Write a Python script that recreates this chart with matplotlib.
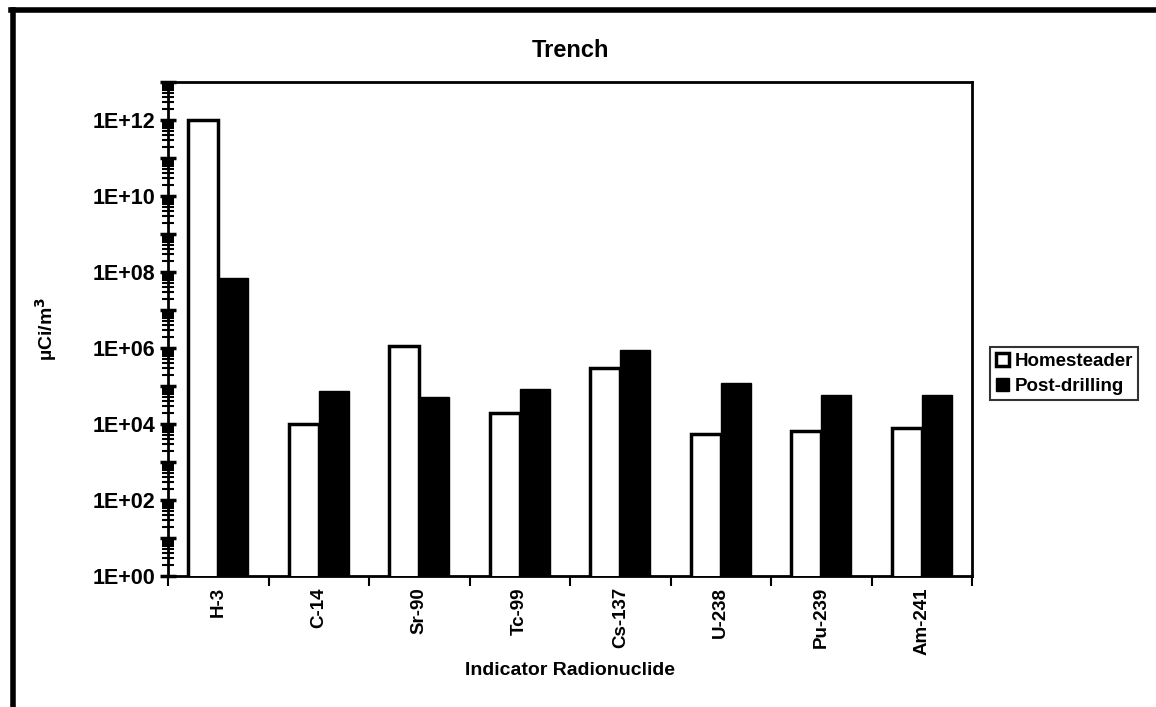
import numpy as np
import matplotlib
matplotlib.use("Agg")
import matplotlib.pyplot as plt
from matplotlib.ticker import LogLocator, FuncFormatter, NullFormatter, FixedLocator
from matplotlib.lines import Line2D

plt.rcParams["font.family"] = ["Liberation Sans", "DejaVu Sans"]
plt.rcParams["font.weight"] = "bold"

nuclides = ["H-3", "C-14", "Sr-90", "Tc-99", "Cs-137", "U-238", "Pu-239", "Am-241"]
homesteader = [1.0e12, 1.0e4, 1.1e6, 2.0e4, 3.0e5, 5.5e3, 6.5e3, 7.8e3]
post_drilling = [7.0e7, 7.5e4, 5.0e4, 8.5e4, 9.0e5, 1.2e5, 5.8e4, 5.8e4]

fig = plt.figure(figsize=(11.56, 7.07), dpi=100)
ax = fig.add_axes([168 / 1156, 1 - 576 / 707, (972 - 168) / 1156, (576 - 82) / 707])

x = np.arange(len(nuclides))
w = 0.3
ax.bar(x - w / 2, homesteader, w, color="white", edgecolor="black", linewidth=2.5,
       label="Homesteader", zorder=3)
ax.bar(x + w / 2, post_drilling, w, color="black", edgecolor="black", linewidth=1,
       label="Post-drilling", zorder=3)

ax.set_yscale("log")
ax.set_ylim(1, 1e13)
ax.set_xlim(-0.5, len(nuclides) - 0.5)

ax.yaxis.set_major_locator(LogLocator(base=10, numticks=20))
ax.yaxis.set_minor_locator(LogLocator(base=10, subs=np.arange(2, 10), numticks=200))
ax.yaxis.set_major_formatter(FuncFormatter(
    lambda v, p: "1E+%02d" % round(np.log10(v)) if round(np.log10(v)) % 2 == 0 else ""))
ax.yaxis.set_minor_formatter(NullFormatter())
ax.tick_params(axis="y", which="major", direction="inout", length=12, width=2.5,
               labelsize=15.5, pad=3)
ax.tick_params(axis="y", which="minor", direction="inout", length=9, width=1.5)

ax.set_xticks(x)
ax.set_xticklabels(nuclides, rotation=90, fontsize=13.5, fontweight="bold")
ax.xaxis.set_minor_locator(FixedLocator(np.arange(-0.5, len(nuclides), 1.0)))
ax.tick_params(axis="x", which="major", length=0, pad=8)
ax.tick_params(axis="x", which="minor", direction="out", length=7, width=1.5)

for s in ax.spines.values():
    s.set_linewidth(2)

ax.set_title("Trench", fontsize=17, fontweight="bold", pad=18)
ax.set_ylabel("µCi/m$^\\mathbf{3}$", fontsize=14, fontweight="bold", labelpad=24)
ax.set_xlabel("Indicator Radionuclide", fontsize=14, fontweight="bold", labelpad=5)

leg = ax.legend(loc="center left", bbox_to_anchor=(990 / 1156, 1 - 374 / 707),
                bbox_transform=fig.transFigure, fontsize=13.5, frameon=True,
                fancybox=False, handlelength=0.7, handleheight=0.7, handletextpad=0.3,
                borderpad=0.3, labelspacing=0.4, borderaxespad=0)
leg.get_frame().set_edgecolor("black")
leg.get_frame().set_linewidth(1.5)

# outer chart border (left and top)
fig.add_artist(Line2D([13 / 1156, 13 / 1156], [0, 1 - 10 / 707], color="black",
                      linewidth=4, transform=fig.transFigure))
fig.add_artist(Line2D([11 / 1156, 1], [1 - 10 / 707, 1 - 10 / 707], color="black",
                      linewidth=4, transform=fig.transFigure))

fig.savefig("out.png", dpi=100)
